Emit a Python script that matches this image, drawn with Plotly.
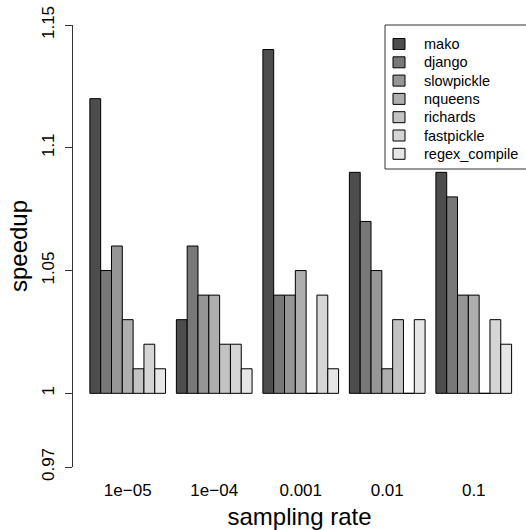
import plotly.graph_objects as go

# sampling rates (x categories) and per-benchmark speedups
rates = ["1e\u221205", "1e\u221204", "0.001", "0.01", "0.1"]
benchmarks = ["mako", "django", "slowpickle", "nqueens", "richards", "fastpickle", "regex_compile"]

mako = [1.12, 1.03, 1.14, 1.09, 1.09]
django = [1.05, 1.06, 1.04, 1.07, 1.08]
slowpickle = [1.06, 1.04, 1.04, 1.05, 1.04]
nqueens = [1.03, 1.04, 1.05, 1.01, 1.04]
richards = [1.01, 1.02, 1.00, 1.03, 1.00]
fastpickle = [1.02, 1.02, 1.04, 1.00, 1.03]
regex_compile = [1.01, 1.01, 1.01, 1.03, 1.02]

series = [mako, django, slowpickle, nqueens, richards, fastpickle, regex_compile]
colors = ["#4D4D4D", "#787878", "#969696", "#AEAEAE", "#C3C3C3", "#D5D5D5", "#E6E6E6"]

y_ticks = [0.97, 1.0, 1.05, 1.1, 1.15]
y_ticktext = ["0.97", "1", "1.05", "1.1", "1.15"]
baseline = 1.0

FONT = "Liberation Sans, Arial, Helvetica, sans-serif"

W, H = 526, 530
ML, MR, MT, MB = 73, 0, 25, 63
PW, PH = W - ML - MR, H - MT - MB


def px_x(px):
    """pixel column -> paper x"""
    return (px - ML) / PW


def px_y(py):
    """pixel row -> paper y"""
    return 1 - (py - MT) / PH


fig = go.Figure()
for name, vals, col in zip(benchmarks, series, colors):
    fig.add_trace(go.Bar(
        name=name,
        x=rates,
        y=[v - baseline for v in vals],
        base=baseline,
        marker=dict(color=col, line=dict(color="black", width=1)),
        showlegend=False,
    ))

# boxed key in the top-right corner of the plotting region
shapes = [dict(type="rect", xref="paper", yref="paper",
               x0=px_x(385), x1=px_x(540), y0=px_y(169), y1=px_y(25),
               line=dict(color="#333333", width=1), fillcolor="white", layer="above")]
annotations = []
row0, step = 44.0, 18.3
for i, (name, col) in enumerate(zip(benchmarks, colors)):
    cy = row0 + i * step
    shapes.append(dict(type="rect", xref="paper", yref="paper",
                       x0=px_x(393), x1=px_x(405), y0=px_y(cy + 5.5), y1=px_y(cy - 5.5),
                       line=dict(color="black", width=1), fillcolor=col, layer="above"))
    annotations.append(dict(xref="paper", yref="paper", x=px_x(422), y=px_y(cy),
                            xanchor="left", yanchor="middle", showarrow=False,
                            text=name, font=dict(size=14.5, family=FONT, color="black")))

fig.update_layout(
    width=W, height=H,
    margin=dict(l=ML, r=MR, t=MT, b=MB),
    paper_bgcolor="white", plot_bgcolor="white",
    barmode="group", bargap=0.125, bargroupgap=0,
    font=dict(family=FONT, color="black"),
    showlegend=False,
    shapes=shapes,
    annotations=annotations,
    xaxis=dict(
        range=[-0.6325, 4.604], showline=False, showgrid=False, zeroline=False,
        ticks="outside", ticklen=0, ticklabelstandoff=8,
        tickfont=dict(size=17),
        title=dict(text="sampling rate", font=dict(size=24), standoff=13),
    ),
    yaxis=dict(
        range=[0.97, 1.15], tickvals=y_ticks, ticktext=y_ticktext,
        showline=True, linecolor="#333333", linewidth=1,
        ticks="outside", ticklen=7, tickcolor="#333333",
        tickangle=-90, tickfont=dict(size=17), ticklabelstandoff=4,
        showgrid=False, zeroline=False,
        title=dict(text="speedup", font=dict(size=24), standoff=4),
    ),
)

fig.write_html("out.html")
